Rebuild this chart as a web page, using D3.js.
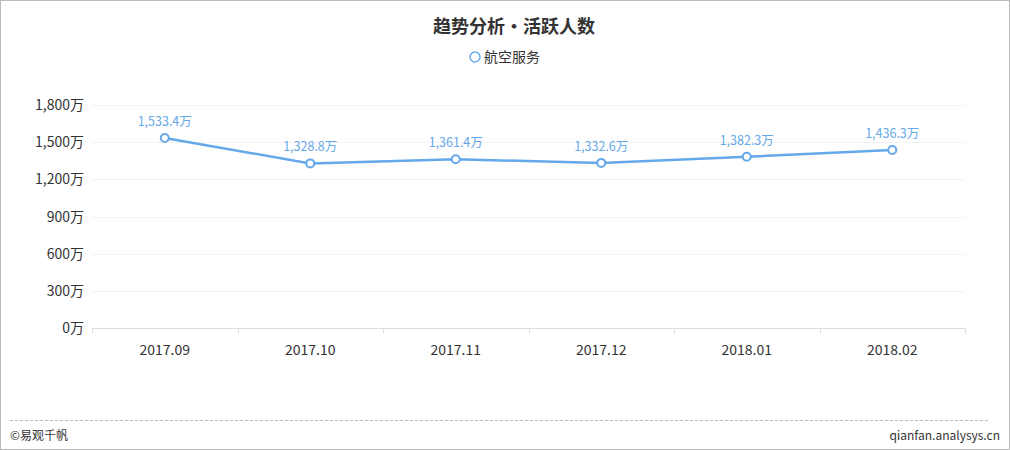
<!DOCTYPE html>
<html><head><meta charset="utf-8">
<script src="https://cdn.jsdelivr.net/npm/d3@7"></script>
<style>
html,body{margin:0;padding:0;background:#fff;}
svg{display:block;font-family:"Microsoft YaHei","Noto Sans CJK SC","Noto Sans",sans-serif;}
</style></head>
<body><svg id="c" width="1010" height="450"></svg>
<script>
const categories = ["2017.09","2017.10","2017.11","2017.12","2018.01","2018.02"];
const values = [1533.4,1328.8,1361.4,1332.6,1382.3,1436.3];
const yTicks = [0,300,600,900,1200,1500,1800];
const seriesName = "航空服务";
const titleParts = ["趋势分析","•","活跃人数"];

(function(){
const svg = d3.select("#c");
const W = 1010, H = 450;
const color = "#65a9ea";
svg.append("rect").attr("x",0.5).attr("y",0.5).attr("width",W-1).attr("height",H-1)
  .attr("fill","#fff").attr("stroke","#bbb");

const tg = svg.append("g").attr("font-size",18).attr("font-weight","bold").attr("fill","#333");
tg.append("text").attr("x",505).attr("y",33).attr("text-anchor","end").text(titleParts[0]);
tg.append("text").attr("x",514).attr("y",33).attr("text-anchor","middle").text(titleParts[1]);
tg.append("text").attr("x",523).attr("y",33).attr("text-anchor","start").text(titleParts[2]);

svg.append("circle").attr("cx",475).attr("cy",57).attr("r",5).attr("fill","#fff")
  .attr("stroke",color).attr("stroke-width",1.5);
svg.append("text").attr("x",484).attr("y",62).attr("font-size",14).attr("fill","#333").text(seriesName);

const pL=92, pR=965, pT=105, pB=328;
const x = d3.scaleBand().domain(categories).range([pL,pR]);
const y = d3.scaleLinear().domain([0,1800]).range([pB,pT]);

svg.append("g").selectAll("line").data(yTicks.filter(d=>d>0)).join("line")
  .attr("x1",pL).attr("x2",pR).attr("y1",d=>Math.round(y(d))+0.5).attr("y2",d=>Math.round(y(d))+0.5)
  .attr("stroke","#f2f2f2");

svg.append("g").selectAll("text").data(yTicks).join("text")
  .attr("x",pL-8).attr("y",d=>y(d)+5).attr("text-anchor","end")
  .attr("font-size",14).attr("fill","#333").text(d=>d3.format(",")(d)+"万");

const xa = svg.append("g").attr("transform",`translate(0,${pB+0.5})`);
xa.append("line").attr("x1",pL).attr("x2",pR).attr("stroke","#ddd");
const bounds = categories.map(c=>x(c)).concat([pR]);
xa.selectAll("line.t").data(bounds).join("line").attr("class","t")
  .attr("x1",d=>Math.round(d)+0.5).attr("x2",d=>Math.round(d)+0.5).attr("y1",0).attr("y2",5).attr("stroke","#ddd");
xa.selectAll("text").data(categories).join("text")
  .attr("x",d=>x(d)+x.bandwidth()/2).attr("y",26).attr("text-anchor","middle")
  .attr("font-size",14).attr("fill","#333").text(d=>d);

const cx = d=>x(d)+x.bandwidth()/2;
const line = d3.line().x((d,i)=>cx(categories[i])).y(d=>y(d));
svg.append("path").datum(values).attr("d",line).attr("fill","none")
  .attr("stroke",color).attr("stroke-width",2.5);
svg.append("g").selectAll("circle").data(values).join("circle")
  .attr("cx",(d,i)=>cx(categories[i])).attr("cy",d=>y(d)).attr("r",4)
  .attr("fill","#fff").attr("stroke",color).attr("stroke-width",2);
svg.append("g").selectAll("text").data(values).join("text")
  .attr("x",(d,i)=>cx(categories[i])).attr("y",d=>y(d)-12).attr("text-anchor","middle")
  .attr("font-size",12.5).attr("fill",color).text(d=>d3.format(",.1f")(d)+"万");

svg.append("line").attr("x1",10).attr("x2",990).attr("y1",420.5).attr("y2",420.5)
  .attr("stroke","#bbb").attr("stroke-dasharray","3,2");
svg.append("text").attr("x",10).attr("y",440).attr("font-size",12).attr("fill","#333").text("©易观千帆");
svg.append("text").attr("x",1000).attr("y",440).attr("text-anchor","end").attr("font-size",12).attr("fill","#333").text("qianfan.analysys.cn");
})();
</script></body></html>
